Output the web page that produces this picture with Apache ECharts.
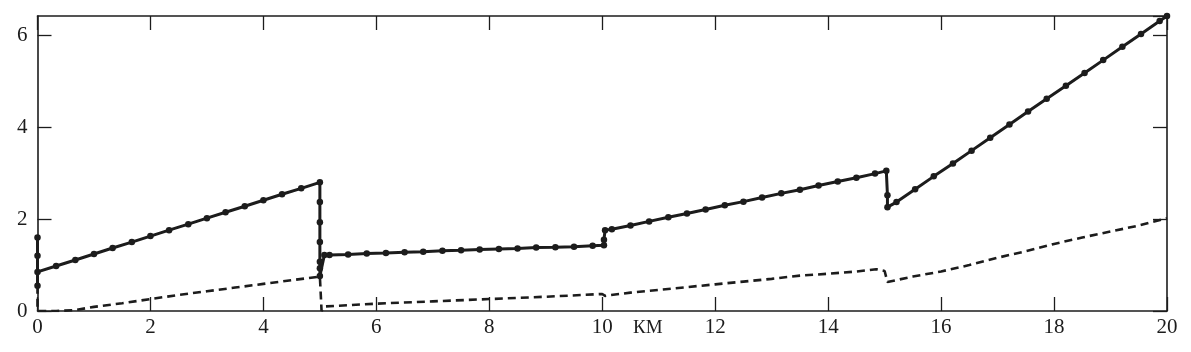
<!DOCTYPE html>
<html>
<head>
<meta charset="utf-8">
<script src="https://cdn.jsdelivr.net/npm/echarts@6/dist/echarts.min.js"></script>
<style>
    html, body { margin: 0; padding: 0; background: #fff; }
    #chart { width: 1191px; height: 352px; }
</style>
</head>
<body>
<div id="chart"></div>
<script>
// solid line with dots
var solidX = [0, 0, 0, 0,
    0.33, 0.67, 1, 1.33, 1.67, 2, 2.33, 2.67, 3, 3.33, 3.67, 4, 4.33, 4.67, 5,
    5, 5, 5, 5, 5, 5,
    5.08, 5.17, 5.5, 5.83, 6.17, 6.5, 6.83, 7.17, 7.5, 7.83, 8.17, 8.5, 8.83, 9.17, 9.5, 9.83, 10.03,
    10.03, 10.05, 10.17, 10.5, 10.83, 11.17, 11.5, 11.83, 12.17, 12.5, 12.83, 13.17, 13.5, 13.83, 14.17, 14.5, 14.83, 15.03,
    15.05, 15.05,
    15.21, 15.54, 15.87, 16.21, 16.54, 16.87, 17.21, 17.54, 17.87, 18.21, 18.54, 18.87, 19.21, 19.54, 19.87, 20];
var solidY = [1.6, 1.2, 0.55, 0.85,
    0.98, 1.11, 1.24, 1.37, 1.5, 1.63, 1.76, 1.89, 2.02, 2.15, 2.28, 2.41, 2.54, 2.67, 2.8,
    2.37, 1.93, 1.5, 1.07, 0.93, 0.76,
    1.22, 1.22, 1.23, 1.25, 1.26, 1.28, 1.29, 1.31, 1.32, 1.34, 1.35, 1.36, 1.38, 1.39, 1.4, 1.42, 1.43,
    1.55, 1.76, 1.78, 1.86, 1.95, 2.04, 2.12, 2.21, 2.3, 2.38, 2.47, 2.56, 2.64, 2.73, 2.82, 2.9, 2.99, 3.05,
    2.52, 2.26,
    2.37, 2.65, 2.93, 3.21, 3.49, 3.77, 4.06, 4.34, 4.62, 4.9, 5.18, 5.46, 5.75, 6.03, 6.31, 6.42];

// dashed line
var dashX = [0, 0, 0.33, 0.67, 1, 1.5, 2, 2.5, 3, 3.5, 4, 4.5, 5, 5.03,
    5.1, 6, 7, 8, 9, 10, 10.05, 10.5, 11, 11.5, 12, 12.5, 13, 13.5, 14, 14.5, 14.85, 15, 15.05,
    15.5, 16, 16.5, 17, 17.5, 18, 18.5, 19, 19.5, 20];
var dashY = [0.55, 0, 0, 0.02, 0.09, 0.17, 0.26, 0.35, 0.43, 0.51, 0.59, 0.67, 0.75, 0,
    0.1, 0.16, 0.21, 0.26, 0.31, 0.37, 0.33, 0.4, 0.46, 0.52, 0.58, 0.64, 0.7, 0.77, 0.81, 0.86, 0.91, 0.87, 0.63,
    0.75, 0.86, 1.0, 1.16, 1.3, 1.46, 1.6, 1.73, 1.86, 2.02];

var xMin = 0, xMax = 20, xStep = 2;
var yMin = 0, yMax = 6.42, yStep = 2;
var xName = 'КМ';

var ink = '#1c1c1c';
var font = 'Liberation Serif';

function zip(xs, ys) {
    return xs.map(function (x, i) { return [x, ys[i]]; });
}

var chart = echarts.init(document.getElementById('chart'));

var baseAxis = {
    type: 'value',
    axisLine: { show: true, onZero: false, lineStyle: { color: ink, width: 1.6 } },
    axisTick: { show: true, inside: true, length: 14, lineStyle: { color: ink, width: 1.3 } },
    splitLine: { show: false }
};

chart.setOption({
    backgroundColor: '#fff',
    animation: false,
    grid: { left: 37.5, right: 24, top: 16, bottom: 41 },
    xAxis: [
        Object.assign({}, baseAxis, {
            position: 'bottom', min: xMin, max: xMax, interval: xStep,
            axisLabel: { color: ink, fontFamily: font, fontSize: 21, margin: 6 }
        }),
        Object.assign({}, baseAxis, {
            position: 'top', min: xMin, max: xMax, interval: xStep,
            axisLabel: { show: false }
        })
    ],
    yAxis: [
        Object.assign({}, baseAxis, {
            position: 'left', min: yMin, max: yMax, interval: yStep,
            axisLabel: {
                color: ink, fontFamily: font, fontSize: 21, margin: 10,
                showMaxLabel: false
            }
        }),
        Object.assign({}, baseAxis, {
            position: 'right', min: yMin, max: yMax, interval: yStep,
            axisLabel: { show: false }
        })
    ],
    graphic: [
        {
            type: 'text',
            left: 633,
            top: 319,
            style: { text: xName, fill: ink, font: '19px "' + font + '"' }
        }
    ],
    series: [
        {
            type: 'line',
            data: zip(dashX, dashY),
            showSymbol: false,
            symbol: 'none',
            lineStyle: { color: ink, width: 2.6, type: [8, 5] },
            z: 2
        },
        {
            type: 'line',
            data: zip(solidX, solidY),
            symbol: 'circle',
            symbolSize: 6.5,
            showAllSymbol: true,
            itemStyle: { color: ink },
            lineStyle: { color: ink, width: 3 },
            z: 3
        }
    ]
});
</script>
</body>
</html>
